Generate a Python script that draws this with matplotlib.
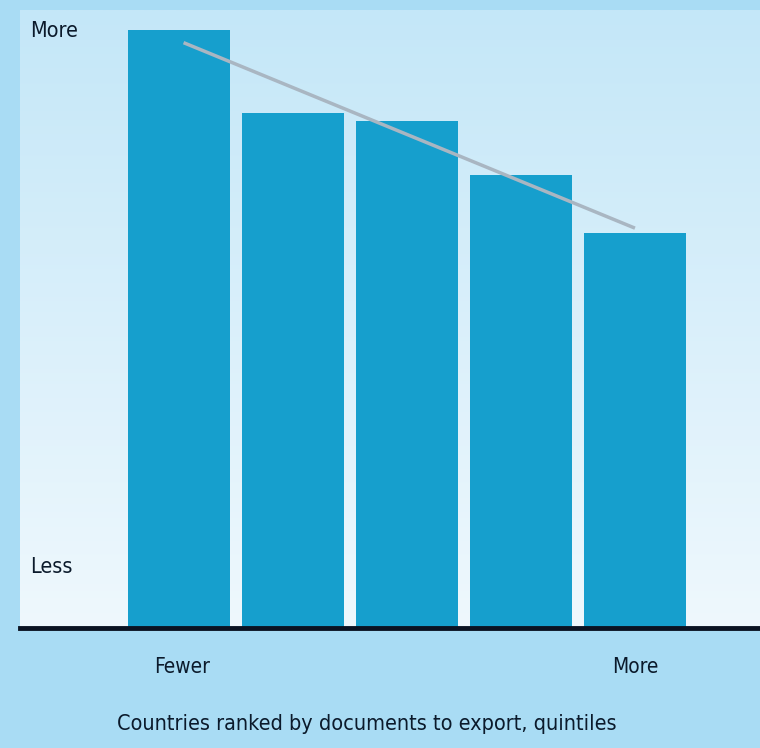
import numpy as np
import matplotlib
matplotlib.use("Agg")
import matplotlib.pyplot as plt
from matplotlib.colors import LinearSegmentedColormap

# Data (relative index, top of axis = 100)
quintiles = [1, 2, 3, 4, 5]
values = [96.8, 83.3, 82.0, 73.3, 63.9]
end_labels = ["Fewer", "More"]
y_labels = ["More", "Less"]
xlabel = "Countries ranked by documents to export, quintiles"

W, H = 760, 748
fig = plt.figure(figsize=(W / 100, H / 100), dpi=100)
fig.patch.set_facecolor("#a9dcf4")

ax = fig.add_axes([20 / W, (H - 628) / H, 740 / W, 618 / H])
x = np.arange(len(values))
xlim = (-1.395, 5.097)
ax.set_xlim(*xlim)
ax.set_ylim(0, 100)

# gradient background
cmap = LinearSegmentedColormap.from_list("bg", ["#eff8fd", "#c4e7f8"])
grad = np.linspace(0, 1, 256).reshape(-1, 1)
ax.imshow(grad, cmap=cmap, aspect="auto", origin="lower",
          extent=[xlim[0], xlim[1], 0, 100], zorder=0)

ax.bar(x, values, width=0.9, color="#169fcd", zorder=2)

# trend line
coef = np.polyfit(x, values, 1)
ax.plot([x[0] + 0.04, x[-1]], np.polyval(coef, [x[0] + 0.04, x[-1]]), color="#a9b6c2",
        lw=2.5, zorder=3, solid_capstyle="butt")

for s in ["top", "right", "left"]:
    ax.spines[s].set_visible(False)
ax.spines["bottom"].set_color("#0a1322")
ax.spines["bottom"].set_linewidth(3.5)
ax.set_xticks([])
ax.set_yticks([])

fam = ["DejaVu Sans"]
kw = dict(family=fam, stretch="condensed", color="#0b1a2b")
fig.text(30 / W, 1 - 31 / H, y_labels[0], ha="left", va="center", fontsize=15.5, **kw)
fig.text(30 / W, 1 - 567 / H, y_labels[1], ha="left", va="center", fontsize=15.5, **kw)

ax.annotate(end_labels[0], xy=(x[0], 0), xytext=(2, -28), textcoords="offset points",
            ha="center", va="center", fontsize=15, annotation_clip=False, **kw)
ax.annotate(end_labels[1], xy=(x[-1], 0), xytext=(0, -28), textcoords="offset points",
            ha="center", va="center", fontsize=15, annotation_clip=False, **kw)

fig.text(367 / W, 1 - 724 / H, xlabel, ha="center", va="center", fontsize=15.5, **kw)

fig.savefig("out.png", dpi=100, facecolor=fig.get_facecolor())
